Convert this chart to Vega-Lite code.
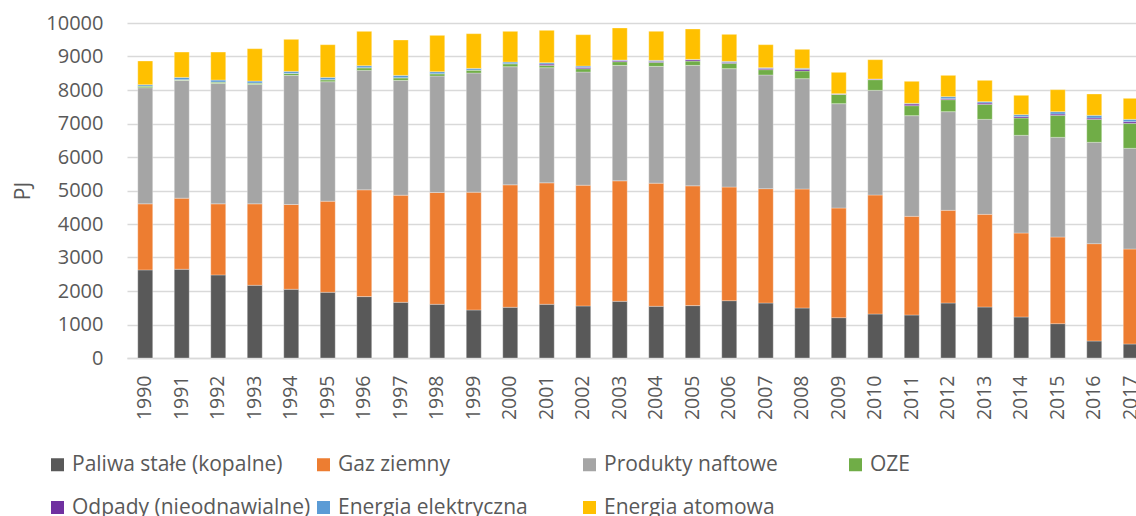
{
  "$schema": "https://vega.github.io/schema/vega-lite/v6.json",
  "width": 1022,
  "height": 335,
  "autosize": {"type": "none"},
  "padding": {"left": 127, "top": 23, "right": -13, "bottom": 158},
  "background": "white",
  "config": {"font": "Open Sans", "view": {"stroke": null}},
  "data": {
    "values": [
      {"year": "1990", "a_solid": 2630, "b_gas": 1972, "c_oil": 3466, "d_oze": 50, "e_waste": 0, "f_elec": 40, "g_nuclear": 707},
      {"year": "1991", "a_solid": 2649, "b_gas": 2122, "c_oil": 3516, "d_oze": 20, "e_waste": 0, "f_elec": 69, "g_nuclear": 757},
      {"year": "1992", "a_solid": 2480, "b_gas": 2122, "c_oil": 3595, "d_oze": 40, "e_waste": 0, "f_elec": 60, "g_nuclear": 836},
      {"year": "1993", "a_solid": 2171, "b_gas": 2431, "c_oil": 3565, "d_oze": 40, "e_waste": 0, "f_elec": 60, "g_nuclear": 966},
      {"year": "1994", "a_solid": 2052, "b_gas": 2530, "c_oil": 3854, "d_oze": 60, "e_waste": 0, "f_elec": 60, "g_nuclear": 956},
      {"year": "1995", "a_solid": 1962, "b_gas": 2719, "c_oil": 3566, "d_oze": 60, "e_waste": 0, "f_elec": 69, "g_nuclear": 976},
      {"year": "1996", "a_solid": 1833, "b_gas": 3187, "c_oil": 3566, "d_oze": 79, "e_waste": 0, "f_elec": 60, "g_nuclear": 1026},
      {"year": "1997", "a_solid": 1663, "b_gas": 3197, "c_oil": 3427, "d_oze": 79, "e_waste": 0, "f_elec": 70, "g_nuclear": 1056},
      {"year": "1998", "a_solid": 1604, "b_gas": 3336, "c_oil": 3476, "d_oze": 70, "e_waste": 0, "f_elec": 60, "g_nuclear": 1085},
      {"year": "1999", "a_solid": 1434, "b_gas": 3516, "c_oil": 3556, "d_oze": 89, "e_waste": 0, "f_elec": 50, "g_nuclear": 1036},
      {"year": "2000", "a_solid": 1514, "b_gas": 3655, "c_oil": 3526, "d_oze": 90, "e_waste": 0, "f_elec": 49, "g_nuclear": 917},
      {"year": "2001", "a_solid": 1604, "b_gas": 3625, "c_oil": 3436, "d_oze": 70, "e_waste": 40, "f_elec": 40, "g_nuclear": 966},
      {"year": "2002", "a_solid": 1554, "b_gas": 3605, "c_oil": 3377, "d_oze": 99, "e_waste": 40, "f_elec": 40, "g_nuclear": 936},
      {"year": "2003", "a_solid": 1693, "b_gas": 3596, "c_oil": 3446, "d_oze": 110, "e_waste": 40, "f_elec": 10, "g_nuclear": 956},
      {"year": "2004", "a_solid": 1544, "b_gas": 3675, "c_oil": 3486, "d_oze": 120, "e_waste": 30, "f_elec": 30, "g_nuclear": 867},
      {"year": "2005", "a_solid": 1564, "b_gas": 3575, "c_oil": 3596, "d_oze": 129, "e_waste": 40, "f_elec": 10, "g_nuclear": 907},
      {"year": "2006", "a_solid": 1711, "b_gas": 3393, "c_oil": 3533, "d_oze": 159, "e_waste": 30, "f_elec": 29, "g_nuclear": 806},
      {"year": "2007", "a_solid": 1642, "b_gas": 3413, "c_oil": 3393, "d_oze": 159, "e_waste": 40, "f_elec": 19, "g_nuclear": 687},
      {"year": "2008", "a_solid": 1493, "b_gas": 3552, "c_oil": 3293, "d_oze": 229, "e_waste": 50, "f_elec": 30, "g_nuclear": 567},
      {"year": "2009", "a_solid": 1204, "b_gas": 3274, "c_oil": 3114, "d_oze": 278, "e_waste": 10, "f_elec": 10, "g_nuclear": 637},
      {"year": "2010", "a_solid": 1313, "b_gas": 3553, "c_oil": 3124, "d_oze": 318, "e_waste": 20, "f_elec": 0, "g_nuclear": 577},
      {"year": "2011", "a_solid": 1284, "b_gas": 2945, "c_oil": 3005, "d_oze": 298, "e_waste": 50, "f_elec": 20, "g_nuclear": 657},
      {"year": "2012", "a_solid": 1642, "b_gas": 2766, "c_oil": 2945, "d_oze": 358, "e_waste": 30, "f_elec": 60, "g_nuclear": 636},
      {"year": "2013", "a_solid": 1522, "b_gas": 2766, "c_oil": 2836, "d_oze": 448, "e_waste": 40, "f_elec": 40, "g_nuclear": 636},
      {"year": "2014", "a_solid": 1224, "b_gas": 2507, "c_oil": 2916, "d_oze": 517, "e_waste": 40, "f_elec": 60, "g_nuclear": 577},
      {"year": "2015", "a_solid": 1025, "b_gas": 2587, "c_oil": 2975, "d_oze": 657, "e_waste": 40, "f_elec": 69, "g_nuclear": 657},
      {"year": "2016", "a_solid": 507, "b_gas": 2906, "c_oil": 3025, "d_oze": 686, "e_waste": 40, "f_elec": 80, "g_nuclear": 636},
      {"year": "2017", "a_solid": 418, "b_gas": 2836, "c_oil": 3005, "d_oze": 746, "e_waste": 50, "f_elec": 69, "g_nuclear": 627}
    ]
  },
  "transform": [
    {"fold": ["a_solid", "b_gas", "c_oil", "d_oze", "e_waste", "f_elec", "g_nuclear"], "as": ["k", "v"]}
  ],
  "mark": {"type": "bar", "stroke": "white", "strokeWidth": 0.5, "strokeOpacity": 0.6},
  "encoding": {
    "x": {
      "field": "year",
      "type": "ordinal",
      "scale": {"paddingInner": 0.59, "paddingOuter": 0.295},
      "axis": {
        "title": null,
        "labelAngle": -90,
        "labelFontSize": 19.5,
        "labelColor": "#595959",
        "labelPadding": 17,
        "ticks": false,
        "domainColor": "#d9d9d9",
        "domainWidth": 1.5
      }
    },
    "y": {
      "field": "v",
      "type": "quantitative",
      "stack": "zero",
      "scale": {"domain": [0, 10000], "nice": false},
      "axis": {
        "title": "PJ",
        "titleFontSize": 21,
        "titleFontWeight": "normal",
        "titleColor": "#595959",
        "titlePadding": 12,
        "values": [0, 1000, 2000, 3000, 4000, 5000, 6000, 7000, 8000, 9000, 10000],
        "format": "d",
        "labelFontSize": 20,
        "labelColor": "#595959",
        "labelPadding": 24,
        "domain": false,
        "ticks": false,
        "gridColor": "#d9d9d9",
        "gridWidth": 1.5
      }
    },
    "color": {
      "field": "k",
      "type": "nominal",
      "scale": {
        "domain": ["a_solid", "b_gas", "c_oil", "d_oze", "e_waste", "f_elec", "g_nuclear"],
        "range": ["#595959", "#ED7D31", "#A5A5A5", "#70AD47", "#7030A0", "#5B9BD5", "#FFC000"]
      },
      "legend": {
        "orient": "none",
        "legendX": -80,
        "legendY": 431,
        "direction": "horizontal",
        "columns": 4,
        "gridAlign": "all",
        "columnPadding": 2,
        "rowPadding": 21,
        "title": null,
        "symbolType": "square",
        "symbolSize": 169,
        "symbolStrokeWidth": 0,
        "labelFontSize": 21,
        "labelColor": "#595959",
        "labelOffset": 4,
        "labelLimit": 0,
        "labelExpr": "datum.label == 'a_solid' ? 'Paliwa stałe (kopalne)' : datum.label == 'b_gas' ? 'Gaz ziemny' : datum.label == 'c_oil' ? 'Produkty naftowe' : datum.label == 'd_oze' ? 'OZE' : datum.label == 'e_waste' ? 'Odpady (nieodnawialne)' : datum.label == 'f_elec' ? 'Energia elektryczna' : 'Energia atomowa'"
      }
    },
    "order": {"field": "k", "sort": "ascending"}
  }
}
